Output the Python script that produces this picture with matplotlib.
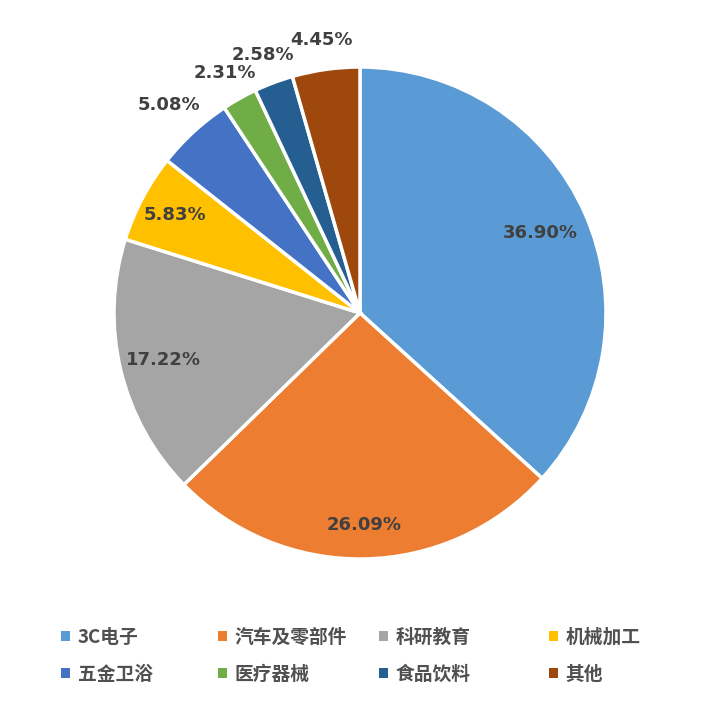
import numpy as np
import matplotlib
matplotlib.use("Agg")
from matplotlib import pyplot as plt
from matplotlib.patches import Patch

plt.rcParams['font.family'] = ['Noto Sans CJK SC', 'DejaVu Sans']

categories = ['3C电子', '汽车及零部件', '科研教育', '机械加工',
              '五金卫浴', '医疗器械', '食品饮料', '其他']
shares = [36.90, 26.09, 17.22, 5.83, 5.08, 2.31, 2.58, 4.45]
share_labels = ['36.90%', '26.09%', '17.22%', '5.83%',
                '5.08%', '2.31%', '2.58%', '4.45%']
colors = ['#5B9BD5', '#ED7D31', '#A5A5A5', '#FFC000',
          '#4472C4', '#70AD47', '#255E91', '#9E480E']
# radial position of each percentage label (fraction of radius)
label_r = [0.80, 0.86, 0.82, 0.85, 1.15, 1.12, 1.12, 1.12]

W, H = 719, 715
fig = plt.figure(figsize=(W / 100, H / 100), dpi=100)
cx, cy, R = 360, 313, 246
ax = fig.add_axes([(cx - R) / W, (H - cy - R) / H, 2 * R / W, 2 * R / H])

wedges, _ = ax.pie(shares, colors=colors, startangle=90, counterclock=False,
                   radius=1.0,
                   wedgeprops=dict(edgecolor='white', linewidth=2.5))
ax.set_xlim(-1, 1)
ax.set_ylim(-1, 1)
ax.set_aspect('equal')
ax.axis('off')

for w, txt, r in zip(wedges, share_labels, label_r):
    mid = np.deg2rad((w.theta1 + w.theta2) / 2)
    ax.text(r * np.cos(mid), r * np.sin(mid), txt, ha='center', va='center',
            fontsize=13, fontweight='bold', color='#404040',
            family='DejaVu Sans', clip_on=False)

# legend: 4 equal-width columns, 2 rows, filled row by row (Excel style)
col_x = [57, 214, 375, 545]
handles = [Patch(facecolor=c, edgecolor='none') for c in colors]
for j, x0 in enumerate(col_x):
    idx = [j, j + 4]
    leg = fig.legend([handles[i] for i in idx], [categories[i] for i in idx],
                     loc='upper left', bbox_to_anchor=(x0 / W, 1 - 624 / H),
                     frameon=False, handlelength=0.5,
                     handleheight=0.5, handletextpad=0.4, labelspacing=0.95,
                     borderaxespad=0, borderpad=0.2,
                     prop=dict(size=13.5, weight='bold'))
    for t in leg.get_texts():
        t.set_color('#505050')

fig.savefig('out.png', dpi=100, facecolor='white')
